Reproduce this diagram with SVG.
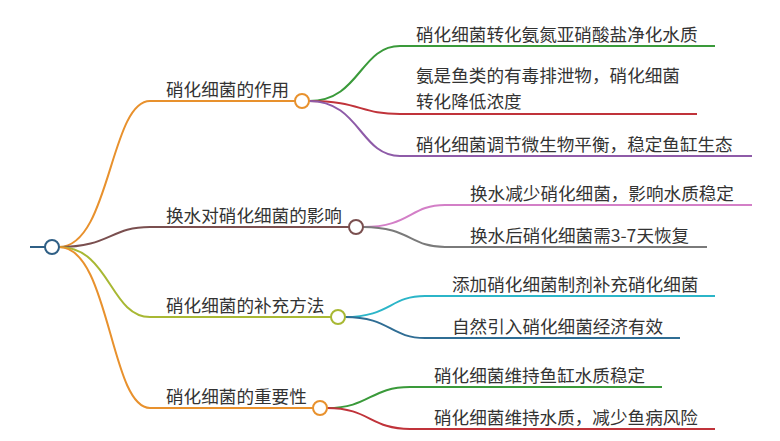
<svg xmlns="http://www.w3.org/2000/svg" width="780" height="441" viewBox="0 0 780 441">
<style>
text{font-family:"Noto Sans CJK SC","Noto Sans",sans-serif;font-size:17.6px;fill:#333}
.c{fill:none;stroke-width:2}
circle{fill:#fff;stroke-width:2}
</style>
<rect width="780" height="441" fill="#fff"/>
<g id="connectors">
<path class="c" stroke="#2f5f85" d="M30,247 H45"/>
<path class="c" stroke="#e8912d" d="M59,247 C110,247 110,101 150,101 H295"/>
<path class="c" stroke="#7a4f4f" d="M59,247 C110,247 110,227 150,227 H349"/>
<path class="c" stroke="#a8b833" d="M59,247 C110,247 110,317 150,317 H331"/>
<path class="c" stroke="#e8912d" d="M59,247 C110,247 110,408 150,408 H313"/>
<path class="c" stroke="#3a9a3a" d="M309,101 C360,101 360,46 400,46 H715"/>
<path class="c" stroke="#c0333a" d="M309,101 C360,101 360,114 400,114 H697"/>
<path class="c" stroke="#8e5ba8" d="M309,101 C360,101 360,156 400,156 H752"/>
<path class="c" stroke="#d37fc7" d="M363,227 C410,227 410,205 445,205 H752"/>
<path class="c" stroke="#7a7a7a" d="M363,227 C410,227 410,247 445,247 H707"/>
<path class="c" stroke="#2bb5c8" d="M345,317 C390,317 390,296 425,296 H715"/>
<path class="c" stroke="#2f6d94" d="M345,317 C390,317 390,338 425,338 H680"/>
<path class="c" stroke="#3a9a3a" d="M327,408 C370,408 370,387 410,387 H662"/>
<path class="c" stroke="#c0333a" d="M327,408 C370,408 370,429 410,429 H715"/>
</g>
<g id="root"><circle cx="52" cy="247" r="7" stroke="#2f5f85"/></g>
<g id="n1"><text x="166" y="96">硝化细菌的作用</text><circle cx="302" cy="101" r="7" stroke="#e8912d"/></g>
<g id="n2"><text x="166" y="222">换水对硝化细菌的影响</text><circle cx="356" cy="227" r="7" stroke="#7a4f4f"/></g>
<g id="n3"><text x="166" y="312">硝化细菌的补充方法</text><circle cx="338" cy="317" r="7" stroke="#a8b833"/></g>
<g id="n4"><text x="166" y="403">硝化细菌的重要性</text><circle cx="320" cy="408" r="7" stroke="#e8912d"/></g>
<g id="n11"><text x="416" y="41">硝化细菌转化氨氮亚硝酸盐净化水质</text></g>
<g id="n12"><text x="416" y="82">氨是鱼类的有毒排泄物，硝化细菌</text><text x="416" y="108">转化降低浓度</text></g>
<g id="n13"><text x="416" y="151">硝化细菌调节微生物平衡，稳定鱼缸生态</text></g>
<g id="n21"><text x="470" y="200">换水减少硝化细菌，影响水质稳定</text></g>
<g id="n22"><text x="470" y="242">换水后硝化细菌需3-7天恢复</text></g>
<g id="n31"><text x="452" y="291">添加硝化细菌制剂补充硝化细菌</text></g>
<g id="n32"><text x="452" y="333">自然引入硝化细菌经济有效</text></g>
<g id="n41"><text x="434" y="382">硝化细菌维持鱼缸水质稳定</text></g>
<g id="n42"><text x="434" y="424">硝化细菌维持水质，减少鱼病风险</text></g>
</svg>
